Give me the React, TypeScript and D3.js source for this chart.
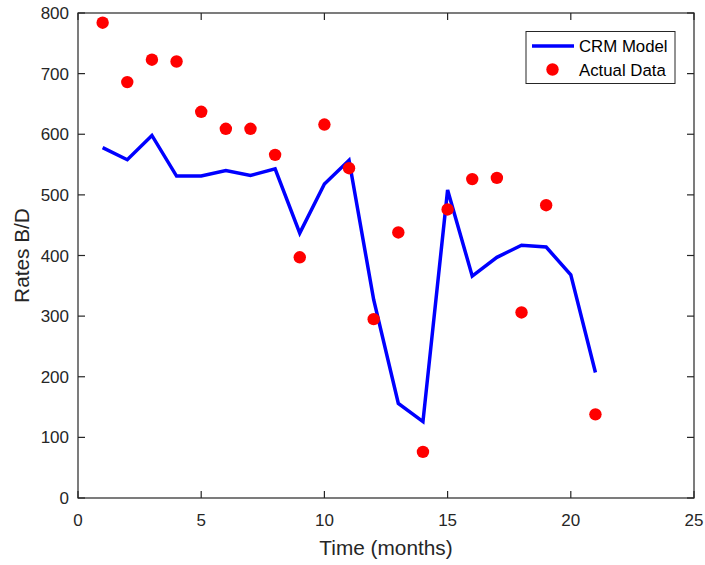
import React from "react";
import * as d3 from "d3";

const months = [1, 2, 3, 4, 5, 6, 7, 8, 9, 10, 11, 12, 13, 14, 15, 16, 17, 18, 19, 20, 21];
const crmModel = [578, 558, 598, 531, 531, 540, 532, 543, 437, 518, 557, 327, 156, 126, 508, 366, 397, 417, 414, 368, 207];
const actualMonths = [1, 2, 3, 4, 5, 6, 7, 8, 9, 10, 11, 12, 13, 14, 15, 16, 17, 18, 19, 21];
const actualData = [784, 686, 723, 720, 637, 609, 609, 566, 397, 616, 544, 295, 438, 76, 476, 526, 528, 306, 483, 138];
const xTicks = [0, 5, 10, 15, 20, 25];
const yTicks = [0, 100, 200, 300, 400, 500, 600, 700, 800];

const W = 705;
const H = 565;
const left = 78;
const right = 694;
const top = 13;
const bottom = 498;
const axisColor = "#262626";
const font = "'Liberation Sans', Arial, Helvetica, sans-serif";

export default function App() {
  const x = d3.scaleLinear().domain([0, 25]).range([left, right]);
  const y = d3.scaleLinear().domain([0, 800]).range([bottom, top]);
  const line = d3
    .line<number>()
    .x((_, i) => x(months[i]))
    .y((d) => y(d));
  const tl = 7;

  return (
    <svg
      width={W}
      height={H}
      style={{ position: "absolute", left: 0, top: 0, background: "#fff" }}
      fontFamily={font}
    >
      <rect x={0} y={0} width={W} height={H} fill="#fff" />
      <path
        d={line(crmModel) || ""}
        fill="none"
        stroke="#0000ff"
        strokeWidth={3.5}
        strokeLinejoin="miter"
      />
      {actualData.map((v, i) => (
        <circle key={i} cx={x(actualMonths[i])} cy={y(v)} r={6.2} fill="#ff0000" />
      ))}
      <rect
        x={left}
        y={top}
        width={right - left}
        height={bottom - top}
        fill="none"
        stroke={axisColor}
        strokeWidth={1.2}
      />
      {xTicks.map((t) => (
        <g key={"x" + t}>
          <line x1={x(t)} x2={x(t)} y1={bottom} y2={bottom - tl} stroke={axisColor} strokeWidth={1.2} />
          <line x1={x(t)} x2={x(t)} y1={top} y2={top + tl} stroke={axisColor} strokeWidth={1.2} />
          <text x={x(t)} y={526} textAnchor="middle" fontSize={17} fill={axisColor}>
            {t}
          </text>
        </g>
      ))}
      {yTicks.map((t) => (
        <g key={"y" + t}>
          <line x1={left} x2={left + tl} y1={y(t)} y2={y(t)} stroke={axisColor} strokeWidth={1.2} />
          <line x1={right} x2={right - tl} y1={y(t)} y2={y(t)} stroke={axisColor} strokeWidth={1.2} />
          <text x={69} y={y(t) + 6} textAnchor="end" fontSize={17} fill={axisColor}>
            {t}
          </text>
        </g>
      ))}
      <text x={(left + right) / 2} y={555} textAnchor="middle" fontSize={20.8} fill={axisColor}>
        Time (months)
      </text>
      <text
        transform={`translate(28.5, ${(top + bottom) / 2}) rotate(-90)`}
        textAnchor="middle"
        fontSize={20.8}
        fill={axisColor}
      >
        Rates B/D
      </text>
      <rect x={526} y={31.5} width={149} height={52} fill="#fff" stroke={axisColor} strokeWidth={1} />
      <line x1={532} x2={574} y1={46} y2={46} stroke="#0000ff" strokeWidth={3.5} />
      <text x={579} y={52} fontSize={16.8} fill="#000">
        CRM Model
      </text>
      <circle cx={552.5} cy={69.5} r={6.2} fill="#ff0000" />
      <text x={579} y={76} fontSize={16.8} fill="#000">
        Actual Data
      </text>
    </svg>
  );
}
